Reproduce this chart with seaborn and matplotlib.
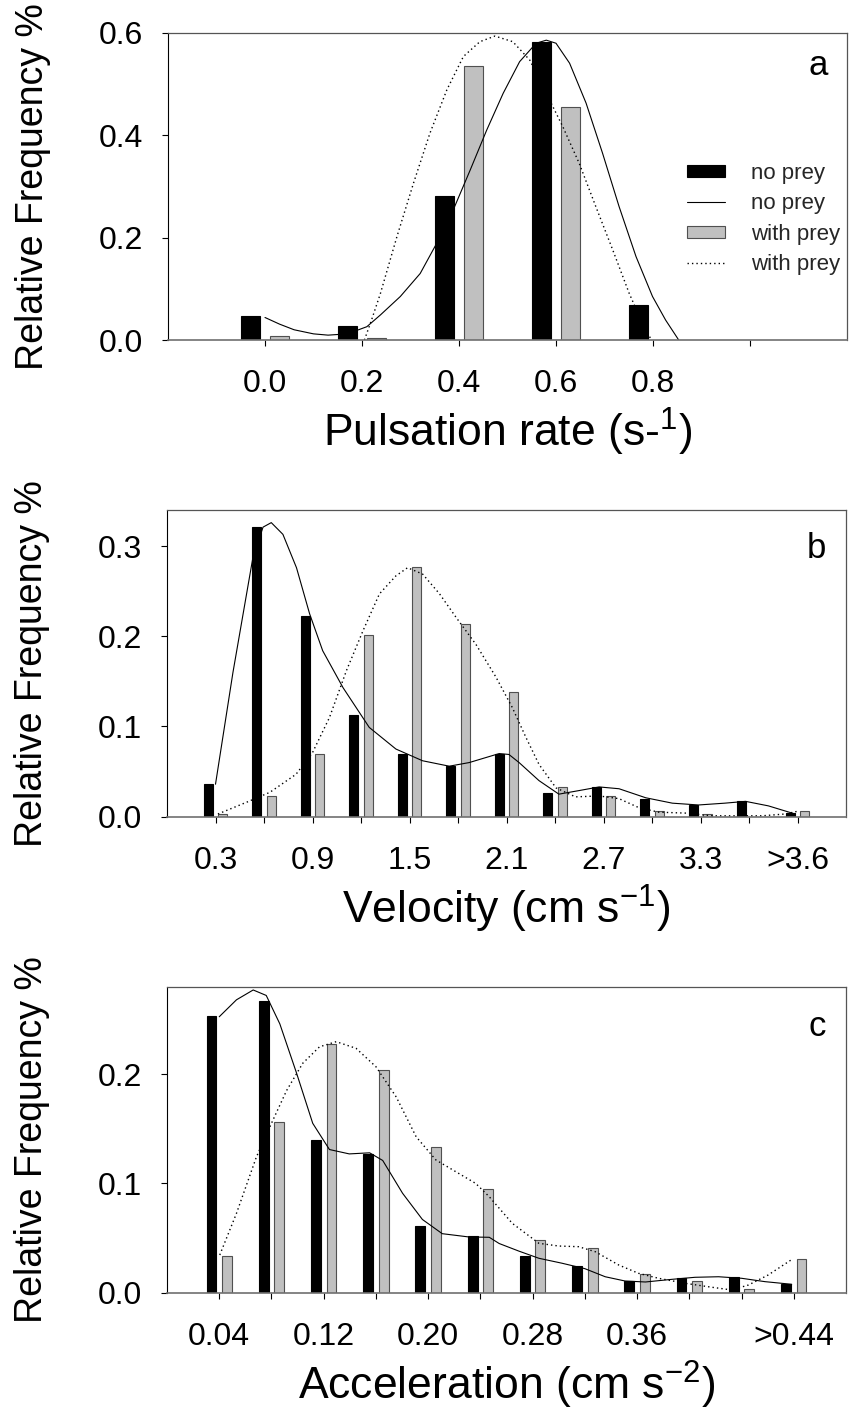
import numpy as np
import pandas as pd
import matplotlib
matplotlib.use("Agg")
import matplotlib.pyplot as plt
import seaborn as sns
from matplotlib.patches import Patch
from matplotlib.lines import Line2D

# ---------------- data ----------------
groups = ["no prey", "with prey"]
legend_labels = ["no prey", "no prey", "with prey", "with prey"]

# panel a: pulsation rate
pulse_x = [0.0, 0.2, 0.4, 0.6, 0.8]
pulse_no_prey = [0.046, 0.027, 0.281, 0.582, 0.068]
pulse_with_prey = [0.007, 0.003, 0.535, 0.455, 0.0]
pulse_ticks = [0.0, 0.2, 0.4, 0.6, 0.8, 1.0]
pulse_tick_labels = ["0.0", "0.2", "0.4", "0.6", "0.8", ""]
pulse_yticks = [0.0, 0.2, 0.4, 0.6]

pulse_fit_no_x = [0.0, 0.03, 0.06, 0.10, 0.13, 0.17, 0.21, 0.238, 0.279, 0.32, 0.354,
                  0.388, 0.423, 0.457, 0.491, 0.525, 0.559, 0.58, 0.60, 0.628, 0.662,
                  0.696, 0.73, 0.765, 0.799, 0.826, 0.853]
pulse_fit_no_y = [0.044, 0.031, 0.020, 0.012, 0.0095, 0.012, 0.026, 0.049, 0.085, 0.130,
                  0.189, 0.254, 0.332, 0.410, 0.482, 0.544, 0.580, 0.586, 0.580, 0.541,
                  0.463, 0.365, 0.261, 0.163, 0.085, 0.039, 0.0]
pulse_fit_wp_x = [0.205, 0.22, 0.238, 0.272, 0.306, 0.34, 0.375, 0.409, 0.443, 0.474,
                  0.511, 0.546, 0.58, 0.614, 0.648, 0.682, 0.717, 0.751, 0.778, 0.795]
pulse_fit_wp_y = [0.0, 0.04, 0.091, 0.202, 0.306, 0.404, 0.489, 0.554, 0.583, 0.594,
                  0.583, 0.547, 0.482, 0.417, 0.345, 0.261, 0.176, 0.091, 0.033, 0.003]

# panel b: velocity
vel_cats = ["0.3", "0.6", "0.9", "1.2", "1.5", "1.8", "2.1", "2.4", "2.7", "3.0", "3.3", "3.6", ">3.6"]
vel_tick_labels = ["0.3", "", "0.9", "", "1.5", "", "2.1", "", "2.7", "", "3.3", "", ">3.6"]
vel_no_prey = [0.036, 0.321, 0.222, 0.113, 0.070, 0.056, 0.070, 0.026, 0.033, 0.020, 0.013, 0.017, 0.004]
vel_with_prey = [0.003, 0.023, 0.069, 0.201, 0.277, 0.214, 0.138, 0.033, 0.023, 0.0065, 0.003, 0.0, 0.0065]
vel_yticks = [0.0, 0.1, 0.2, 0.3]

vel_fit_no_x = [0, 0.36, 0.77, 0.98, 1.15, 1.39, 1.67, 1.94, 2.21, 2.63, 3.17, 3.72, 4.27,
                4.82, 5.23, 5.85, 6.05, 6.26, 6.67, 7.08, 7.5, 7.91, 8.32, 8.87, 9.42, 9.96,
                10.5, 10.93, 11.4, 11.95]
vel_fit_no_y = [0.036, 0.16, 0.287, 0.321, 0.326, 0.313, 0.276, 0.225, 0.184, 0.143, 0.099,
                0.075, 0.062, 0.056, 0.060, 0.070, 0.069, 0.060, 0.040, 0.025, 0.029, 0.033,
                0.031, 0.021, 0.015, 0.013, 0.015, 0.017, 0.012, 0.003]
vel_fit_wp_x = [0.05, 0.64, 1.12, 1.66, 2.0, 2.35, 2.70, 3.04, 3.38, 3.72, 3.96, 4.27, 4.62,
                4.96, 5.37, 5.78, 6.12, 6.4, 6.67, 7.02, 7.42, 7.91, 8.32, 8.73, 9.14, 9.69,
                10.24, 10.8, 11.27, 11.75, 12.0]
vel_fit_wp_y = [0.003, 0.016, 0.027, 0.047, 0.071, 0.110, 0.162, 0.206, 0.247, 0.267, 0.276,
                0.269, 0.247, 0.221, 0.191, 0.155, 0.121, 0.088, 0.058, 0.032, 0.022, 0.023,
                0.020, 0.010, 0.005, 0.004, 0.001, 0.001, 0.001, 0.003, 0.006]

# panel c: acceleration
acc_cats = ["0.04", "0.08", "0.12", "0.16", "0.20", "0.24", "0.28", "0.32", "0.36", "0.40", "0.44", ">0.44"]
acc_tick_labels = ["0.04", "", "0.12", "", "0.20", "", "0.28", "", "0.36", "", "", ">0.44"]
acc_no_prey = [0.253, 0.267, 0.140, 0.127, 0.061, 0.052, 0.034, 0.024, 0.011, 0.0135, 0.014, 0.0077]
acc_with_prey = [0.034, 0.156, 0.228, 0.204, 0.133, 0.095, 0.048, 0.041, 0.017, 0.0104, 0.0034, 0.0305]
acc_yticks = [0.0, 0.1, 0.2]

acc_fit_no_x = [0, 0.33, 0.65, 0.9, 1.16, 1.48, 1.79, 2.11, 2.49, 2.88, 3.13, 3.51, 3.89, 4.27,
                4.78, 5.17, 5.36, 5.74, 6.12, 6.56, 7.0, 7.39, 7.77, 8.16, 8.66, 9.11, 9.56,
                10.0, 10.45, 10.96]
acc_fit_no_y = [0.2525, 0.268, 0.277, 0.272, 0.246, 0.201, 0.155, 0.131, 0.127, 0.128, 0.121,
                0.091, 0.067, 0.054, 0.051, 0.0507, 0.045, 0.038, 0.0315, 0.027, 0.022, 0.0146,
                0.0107, 0.0098, 0.0122, 0.0141, 0.0146, 0.0132, 0.0101, 0.0077]
acc_fit_wp_x = [0.01, 0.33, 0.71, 1.0, 1.29, 1.6, 1.92, 2.24, 2.62, 3.0, 3.39, 3.77, 4.15, 4.53,
                4.91, 5.17, 5.61, 6.12, 6.5, 6.88, 7.2, 7.65, 8.03, 8.41, 8.92, 9.43, 9.81,
                10.13, 10.51, 10.95]
acc_fit_wp_y = [0.0345, 0.0726, 0.124, 0.155, 0.185, 0.21, 0.225, 0.2297, 0.2236, 0.2068, 0.179,
                0.1427, 0.1214, 0.1107, 0.1, 0.0878, 0.0635, 0.0452, 0.0427, 0.0421, 0.0375,
                0.0253, 0.0177, 0.0132, 0.0086, 0.005, 0.0025, 0.007, 0.0162, 0.030]

# ---------------- style ----------------
sns.set_theme(style="ticks")
plt.rcParams["font.family"] = ["Liberation Sans", "DejaVu Sans"]
plt.rcParams["mathtext.fontset"] = "custom"
plt.rcParams["mathtext.rm"] = "Liberation Sans"
plt.rcParams["mathtext.it"] = "Liberation Sans:italic"
plt.rcParams["mathtext.bf"] = "Liberation Sans:bold"

BLACK = "black"
GRAY = "#C0C0C0"
GRAY_EDGE = "#505050"
palette = {groups[0]: BLACK, groups[1]: GRAY}
DOT = (0, (1, 2.2))

W, H = 850, 1414
fig = plt.figure(figsize=(W / 100, H / 100), dpi=100)


def add_ax(left, top, right, bottom):
    return fig.add_axes([left / W, 1 - bottom / H, (right - left) / W, (bottom - top) / H])


ax_a = add_ax(168, 33, 847, 340)
ax_b = add_ax(167, 510, 846, 816.7)
ax_c = add_ax(167, 986.7, 846, 1292.7)


def draw_bars(ax, x, no, wp):
    df = pd.DataFrame({
        "x": list(x) * 2,
        "freq": list(no) + list(wp),
        "group": [groups[0]] * len(x) + [groups[1]] * len(x),
    })
    sns.barplot(data=df, x="x", y="freq", hue="group", hue_order=groups, palette=palette,
                native_scale=True, width=0.595, gap=0.37, errorbar=None, saturation=1,
                legend=False, ax=ax, linewidth=0.8)
    for p in ax.patches:
        fc = p.get_facecolor()
        p.set_edgecolor(BLACK if fc[0] < 0.5 else GRAY_EDGE)


def draw_fit(ax, x, y, dotted=False):
    if dotted:
        sns.lineplot(x=x, y=y, ax=ax, color="black", lw=1.0, linestyle=DOT, estimator=None)
    else:
        sns.lineplot(x=x, y=y, ax=ax, color="black", lw=0.8, estimator=None)


def style_ax(ax, letter, xlabel, yticks, ylim, xlim, xticks, xticklabels, letter_y):
    ax.set_xlim(*xlim)
    ax.set_ylim(*ylim)
    ax.set_xticks(xticks)
    ax.set_xticklabels(xticklabels)
    ax.set_yticks(yticks)
    ax.set_yticklabels([f"{v:.1f}" for v in yticks])
    ax.tick_params(axis="both", direction="out", length=4, width=0.8, color="black",
                   labelsize=23, labelcolor="black")
    ax.tick_params(axis="x", pad=17)
    ax.tick_params(axis="y", pad=14)
    for side in ["top", "right", "bottom"]:
        ax.spines[side].set_color("#555555")
        ax.spines[side].set_linewidth(0.9)
    ax.spines["left"].set_color("black")
    ax.spines["left"].set_linewidth(0.8)
    ax.spines["bottom"].set_color("#707070")
    ax.spines["bottom"].set_linewidth(1.2)
    ax.set_ylabel("Relative Frequency %", fontsize=27, color="black")
    ax.yaxis.set_label_coords(-0.172, 0.5)
    ax.set_xlabel(xlabel, fontsize=32, color="black")
    ax.xaxis.set_label_coords(0.5, -0.215)
    ax.text(0.957, letter_y, letter, transform=ax.transAxes, fontsize=25,
            ha="center", va="baseline", color="black")


# panel a
draw_bars(ax_a, pulse_x, pulse_no_prey, pulse_with_prey)
draw_fit(ax_a, pulse_fit_no_x, pulse_fit_no_y)
draw_fit(ax_a, pulse_fit_wp_x, pulse_fit_wp_y, dotted=True)
style_ax(ax_a, "a", r"Pulsation rate (s-$^{\mathregular{1}}$)", pulse_yticks, (0, 0.6),
         (-0.2, 1.2), pulse_ticks, pulse_tick_labels, 0.863)

handles = [
    Patch(facecolor=BLACK, edgecolor=BLACK, linewidth=0.8),
    Line2D([], [], color="black", lw=0.8),
    Patch(facecolor=GRAY, edgecolor=GRAY_EDGE, linewidth=0.8),
    Line2D([], [], color="black", lw=1.0, linestyle=DOT),
]
ax_a.legend(handles, legend_labels, loc="upper left", bbox_to_anchor=(0.764, 0.577),
            frameon=False, fontsize=16, handlelength=1.7, handleheight=0.45,
            handletextpad=1.2, labelspacing=0.42, borderpad=0, borderaxespad=0)

# panel b
vel_pos = np.arange(len(vel_cats))
draw_bars(ax_b, vel_pos, vel_no_prey, vel_with_prey)
draw_fit(ax_b, vel_fit_no_x, vel_fit_no_y)
draw_fit(ax_b, vel_fit_wp_x, vel_fit_wp_y, dotted=True)
style_ax(ax_b, "b", r"Velocity (cm s$^{\mathregular{-1}}$)", vel_yticks, (0, 0.34),
         (-1, 13), vel_pos, vel_tick_labels, 0.8425)

# panel c
acc_pos = np.arange(len(acc_cats))
draw_bars(ax_c, acc_pos, acc_no_prey, acc_with_prey)
draw_fit(ax_c, acc_fit_no_x, acc_fit_no_y)
draw_fit(ax_c, acc_fit_wp_x, acc_fit_wp_y, dotted=True)
style_ax(ax_c, "c", r"Acceleration (cm s$^{\mathregular{-2}}$)", acc_yticks, (0, 0.28),
         (-1, 12), acc_pos, acc_tick_labels, 0.839)

fig.savefig("out.png", dpi=100, facecolor="white")
